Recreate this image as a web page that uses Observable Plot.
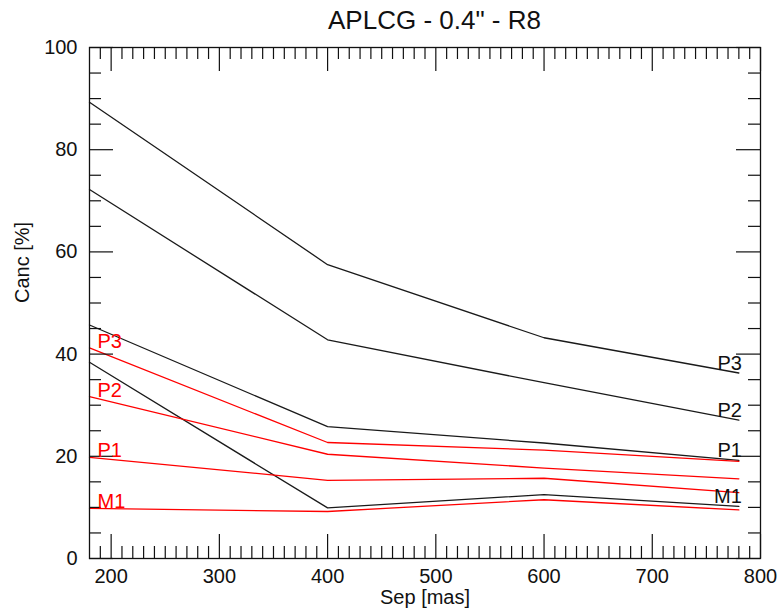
<!DOCTYPE html>
<html>
<head>
<meta charset="utf-8">
<script src="https://cdn.jsdelivr.net/npm/d3@7"></script>
<script src="https://cdn.jsdelivr.net/npm/@observablehq/plot@0.6"></script>
<style>
  html, body { margin: 0; padding: 0; background: #fff; }
</style>
</head>
<body>
<div id="chart"></div>
<script>
// ---- data ----
const title = "APLCG - 0.4\" - R8";
const xLabel = "Sep [mas]";
const yLabel = "Canc [%]";
const sep = [180, 400, 600, 780];
const seriesNames = ["P3", "P2", "P1", "M1"];
const blackP3 = [89.3, 57.5, 43.2, 36.3];
const blackP2 = [72.2, 42.8, 34.4, 27.1];
const blackP1 = [45.7, 25.8, 22.6, 19.2];
const blackM1 = [38.4, 9.9, 12.5, 10.2];
const redP3 = [41.2, 22.7, 21.2, 19.0];
const redP2 = [31.7, 20.4, 17.7, 15.6];
const redP1 = [19.8, 15.3, 15.7, 12.9];
const redM1 = [9.8, 9.2, 11.5, 9.5];
const xMajor = [200, 300, 400, 500, 600, 700, 800];
const yMajor = [0, 20, 40, 60, 80, 100];
const xMinor = d3.range(190, 800, 10).filter(v => v % 100 !== 0);
const yMinor = d3.range(5, 100, 5).filter(v => v % 20 !== 0);

// ---- build tables ----
const blackSeries = [blackP3, blackP2, blackP1, blackM1];
const redSeries = [redP3, redP2, redP1, redM1];
const rows = [];
seriesNames.forEach((n, i) => {
  sep.forEach((s, j) => {
    rows.push({group: "black-" + n, color: "black", sep: s, canc: blackSeries[i][j]});
    rows.push({group: "red-" + n, color: "red", sep: s, canc: redSeries[i][j]});
  });
});
const redLabels = seriesNames.map((n, i) => ({name: n, sep: sep[0], canc: redSeries[i][0]}));
const blackLabels = seriesNames.map((n, i) => ({name: n, sep: sep[sep.length - 1], canc: blackSeries[i][sep.length - 1]}));

const W = 778, H = 609;
const mL = 89, mR = 18, mT = 47, mB = 51;
const fW = W - mL - mR, fH = H - mT - mB;
const majLen = 24, minLen = 12;
const tickStyle = {stroke: "#111", strokeWidth: 1.2};

const chart = Plot.plot({
  width: W,
  height: H,
  marginLeft: mL,
  marginRight: mR,
  marginTop: mT,
  marginBottom: mB,
  style: {fontFamily: "'Liberation Sans', Arial, Helvetica, sans-serif", fontSize: "20px", color: "#111", background: "#fff"},
  x: {domain: [180, 800]},
  y: {domain: [0, 100]},
  marks: [
    // lines
    Plot.line(rows.filter(d => d.color === "black"), {x: "sep", y: "canc", z: "group", stroke: "#1a1a1a", strokeWidth: 1.3}),
    Plot.line(rows.filter(d => d.color === "red"), {x: "sep", y: "canc", z: "group", stroke: "#ff0000", strokeWidth: 1.3}),
    // ticks (inside, all four sides)
    Plot.tickX(xMajor, {x: d => d, insetTop: fH - majLen, ...tickStyle}),
    Plot.tickX(xMajor, {x: d => d, insetBottom: fH - majLen, ...tickStyle}),
    Plot.tickX(xMinor, {x: d => d, insetTop: fH - minLen, ...tickStyle}),
    Plot.tickX(xMinor, {x: d => d, insetBottom: fH - minLen, ...tickStyle}),
    Plot.tickY(yMajor, {y: d => d, insetRight: fW - majLen, ...tickStyle}),
    Plot.tickY(yMajor, {y: d => d, insetLeft: fW - majLen, ...tickStyle}),
    Plot.tickY(yMinor, {y: d => d, insetRight: fW - minLen, ...tickStyle}),
    Plot.tickY(yMinor, {y: d => d, insetLeft: fW - minLen, ...tickStyle}),
    Plot.frame({stroke: "#111", strokeWidth: 1.3}),
    // tick labels
    Plot.axisX({ticks: xMajor, tickSize: 0, tickPadding: 10, label: null, fontSize: 20}),
    Plot.axisY({ticks: yMajor, tickSize: 0, tickPadding: 12, label: null, fontSize: 20}),
    // series labels
    Plot.text(redLabels, {x: "sep", y: "canc", text: "name", fill: "#ff0000", textAnchor: "start", lineAnchor: "bottom", dx: 8, fontSize: 20}),
    Plot.text(blackLabels, {x: "sep", y: "canc", text: "name", fill: "#111", textAnchor: "end", lineAnchor: "bottom", dx: 3, dy: -3, fontSize: 20}),
    // titles
    Plot.text([title], {frameAnchor: "top", text: d => d, dy: -19, dx: 9.5, lineAnchor: "bottom", fontSize: 26, fill: "#111"}),
    Plot.text([xLabel], {frameAnchor: "bottom", text: d => d, dy: 45, lineAnchor: "bottom", fontSize: 20, fill: "#111"}),
    Plot.text([yLabel], {frameAnchor: "left", text: d => d, dx: -67, rotate: -90, fontSize: 20, fill: "#111"})
  ]
});
document.getElementById("chart").appendChild(chart);
</script>
</body>
</html>
